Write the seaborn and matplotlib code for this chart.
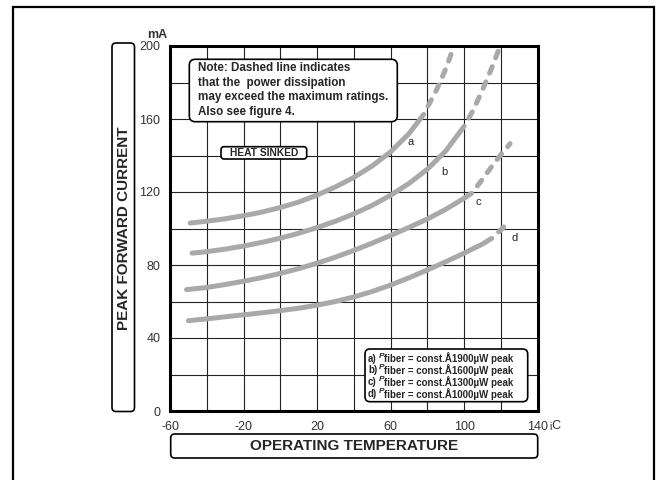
import matplotlib.pyplot as plt
import seaborn as sns
import pandas as pd
from matplotlib.patches import FancyBboxPatch, Rectangle

# curve readings (temperature degC, peak forward current mA)
a_solid_t = [-49, -40, -30, -20, -10, 0, 10, 20, 30, 40, 50, 60, 70, 78]
a_solid_i = [103, 104, 105.3, 107, 109, 111.5, 114.5, 118.3, 122.8, 128, 134.3, 142, 152, 162.5]
a_dash_t = [78, 85, 90, 94.5]
a_dash_i = [162.5, 176, 187.5, 200]

b_solid_t = [-48, -40, -30, -20, -10, 0, 10, 20, 30, 40, 50, 60, 70, 80, 90, 100]
b_solid_i = [86.5, 87.3, 88.7, 90.4, 92.4, 94.7, 97.4, 100.5, 104, 108, 112.7, 118.2, 124.7, 132.5, 142.5, 156]
b_dash_t = [100, 105, 110, 115, 119.6]
b_dash_i = [156, 165, 176, 188, 200]

c_solid_t = [-51, -40, -30, -20, -10, 0, 10, 20, 30, 40, 50, 60, 70, 80, 90, 100, 104]
c_solid_i = [66.5, 67.7, 69.3, 71.1, 73.1, 75.4, 78, 81, 84.3, 88, 92, 96.2, 100.6, 105.2, 110.5, 116.6, 119.3]
c_dash_t = [104, 110, 115, 120, 125]
c_dash_i = [119.3, 127, 134, 140.5, 146.5]

d_solid_t = [-50, -40, -30, -20, -10, 0, 10, 20, 30, 40, 50, 60, 70, 80, 90, 100, 110, 115]
d_solid_i = [49.5, 50.5, 51.6, 52.7, 53.8, 55, 56.3, 58, 60, 62.5, 65.5, 69, 73, 77.3, 81.8, 86.5, 91.5, 94.6]
d_dash_t = [115, 120, 124]
d_dash_i = [94.6, 99.3, 103.3]

curve_names = ['a', 'b', 'c', 'd']
legend_prefix = ['a)', 'b)', 'c)', 'd)']
legend_power = ['1900', '1600', '1300', '1000']

solid = pd.concat([
    pd.DataFrame({'temp': t, 'current': i, 'curve': n})
    for t, i, n in [(a_solid_t, a_solid_i, 'a'), (b_solid_t, b_solid_i, 'b'),
                    (c_solid_t, c_solid_i, 'c'), (d_solid_t, d_solid_i, 'd')]
])
dashed = pd.concat([
    pd.DataFrame({'temp': t, 'current': i, 'curve': n})
    for t, i, n in [(a_dash_t, a_dash_i, 'a'), (b_dash_t, b_dash_i, 'b'),
                    (c_dash_t, c_dash_i, 'c'), (d_dash_t, d_dash_i, 'd')]
])

sns.set_style('white')
plt.rcParams['font.family'] = ['Liberation Sans', 'DejaVu Sans']
narrow = ['Liberation Sans Narrow', 'Liberation Sans', 'DejaVu Sans']
GRAY = '#a9a9a9'

fig = plt.figure(figsize=(6.6, 4.8), dpi=100)
ax = fig.add_axes([170 / 660, 1 - 411 / 480, (537.7 - 170) / 660, (411 - 46) / 480])

sns.lineplot(data=solid, x='temp', y='current', units='curve', estimator=None,
             color=GRAY, lw=3.6, solid_capstyle='round', solid_joinstyle='round', ax=ax)
sns.lineplot(data=dashed, x='temp', y='current', units='curve', estimator=None,
             color=GRAY, lw=3.6, linestyle=(1.4, (1.4, 1.9)), dash_capstyle='round', ax=ax)

ax.set_xlim(-60, 140)
ax.set_ylim(0, 200)
xt = list(range(-60, 141, 20))
yt = list(range(0, 201, 20))
ax.set_xticks(xt)
ax.set_xticklabels([str(v) if (v + 60) % 40 == 0 else '' for v in xt], family=narrow)
ax.set_yticks(yt)
ax.set_yticklabels([str(v) if v % 40 == 0 else '' for v in yt], family=narrow)
ax.tick_params(direction='out', length=4.5, width=1, labelsize=9, pad=2.5,
               labelcolor='#333333', color='black')
ax.grid(True, color='#222222', lw=0.8)
ax.set_axisbelow(True)
for s in ax.spines.values():
    s.set_visible(True)
    s.set_color('black')
    s.set_linewidth(2.2)
ax.set_xlabel('')
ax.set_ylabel('')

# curve letters
for n, x, y in zip(curve_names, [70.7, 89.2, 107.7, 127.3], [147.6, 131.2, 114.5, 94.7]):
    ax.text(x, y, n, fontsize=8, ha='center', va='center', color='#222222')

ax.text(-61.5, 203, 'mA', ha='right', va='bottom', fontsize=9, family=narrow,
        fontweight='bold', color='#333333')
ax.text(146, -5, '¡C', ha='left', va='top', fontsize=9, family=narrow, color='#333333')

T = fig.dpi_scale_trans


def box(x0, y0, x1, y1, r=0.05, lw=1.2):
    p = FancyBboxPatch((x0 / 100, (480 - y1) / 100), (x1 - x0) / 100, (y1 - y0) / 100,
                       boxstyle=f'round,pad=0,rounding_size={r}', transform=T,
                       fc='white', ec='black', lw=lw)
    fig.add_artist(p)


def label(x, y, s, **kw):
    fig.text(x / 100, (480 - y) / 100, s, transform=T, **kw)


# outer frame
fig.add_artist(Rectangle((12.5 / 100, -0.5), (654.3 - 12.5) / 100, (480 - 6.8) / 100 + 0.5,
                         fill=False, ec='black', lw=1.6, transform=T))

# axis title boxes
box(112, 43, 134.5, 411.5, r=0.04)
label(123.5, 228, 'PEAK FORWARD CURRENT', rotation=90, ha='center', va='center',
      fontsize=11, fontweight='bold')
box(170.7, 434, 537.7, 458, r=0.04)
label(354, 446.5, 'OPERATING TEMPERATURE', ha='center', va='center',
      fontsize=11, fontweight='bold')

# note
box(189.3, 59.3, 397.3, 121.7, r=0.06)
note = ['Note: Dashed line indicates', 'that the  power dissipation',
        'may exceed the maximum ratings.', 'Also see figure 4.']
for k, line in enumerate(note):
    label(198.3, 68.3 + k * 14.4, line, ha='left', va='center', fontsize=8.4, fontweight='bold')

box(221, 146.7, 306.7, 159, r=0.03)
label(263.8, 153, 'HEAT SINKED', ha='center', va='center', fontsize=7.4, fontweight='bold')

# legend box
box(365, 349, 527.7, 401.7, r=0.05)
for k, (pre, pw) in enumerate(zip(legend_prefix, legend_power)):
    y = 358.5 + k * 11.8
    label(368, y, pre, ha='left', va='center', fontsize=7, fontweight='bold')
    label(379, y - 2.5, 'P', ha='left', va='center', fontsize=6, fontstyle='italic',
          fontweight='bold')
    label(384, y, f'fiber = const.Å{pw}µW peak', ha='left', va='center',
          fontsize=7, fontweight='bold')

fig.savefig('out.png', dpi=100)
